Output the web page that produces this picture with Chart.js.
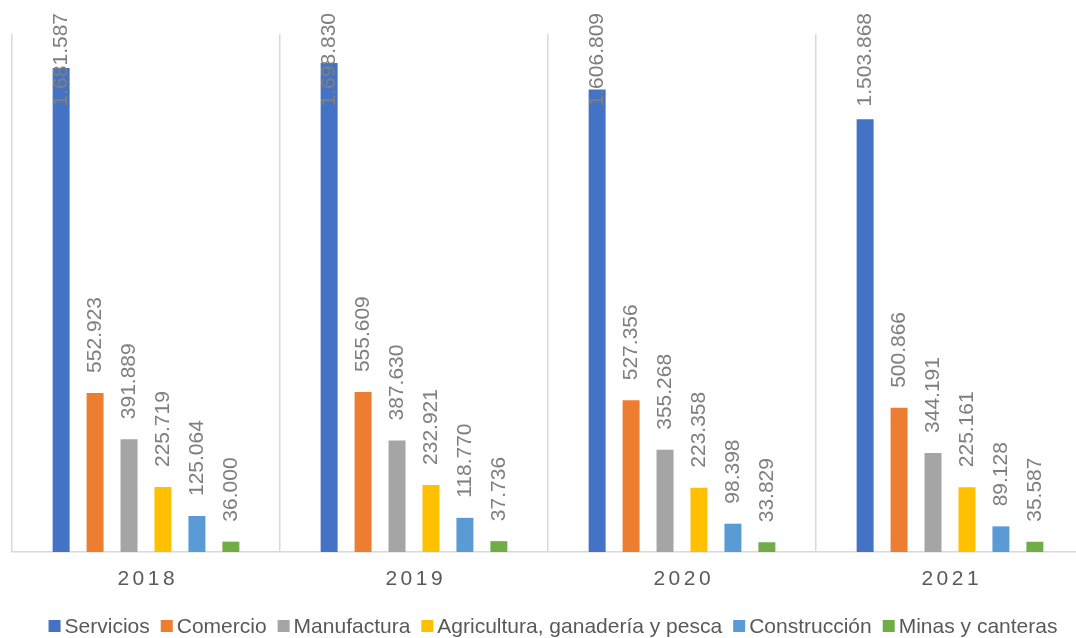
<!DOCTYPE html>
<html>
<head>
<meta charset="utf-8">
<script src="https://cdn.jsdelivr.net/npm/chart.js@4"></script>
<style>
  html, body { margin: 0; padding: 0; background: #fff; overflow: hidden; }
  #wrap { width: 1106px; height: 638px; }
</style>
</head>
<body>
<div id="wrap"><canvas id="chart"></canvas></div>
<script>
// 데이터
const years = ['2018', '2019', '2020', '2021'];
const servicios = [1681587, 1698830, 1606809, 1503868];
const comercio = [552923, 555609, 527356, 500866];
const manufactura = [391889, 387630, 355268, 344191];
const agricultura = [225719, 232921, 223358, 225161];
const construccion = [125064, 118770, 98398, 89128];
const minas = [36000, 37736, 33829, 35587];

const FONT = '"Liberation Sans", Arial, sans-serif';

// 1.681.587 형식
function fmt(v) {
    return String(v).replace(/\B(?=(\d{3})+(?!\d))/g, '.');
}

// 막대 위 세로 라벨
const valueLabels = {
    id: 'valueLabels',
    afterDatasetsDraw(chart) {
        const ctx = chart.ctx;
        ctx.save();
        ctx.font = '21px ' + FONT;
        ctx.fillStyle = '#7f7f7f';
        ctx.textAlign = 'left';
        ctx.textBaseline = 'middle';
        chart.data.datasets.forEach((ds, i) => {
            chart.getDatasetMeta(i).data.forEach((bar, j) => {
                const txt = fmt(ds.data[j]);
                const w = ctx.measureText(txt).width;
                let start = bar.y - 20;
                if (start - w < 13) start = 13 + w;
                ctx.save();
                ctx.translate(bar.x, start);
                ctx.rotate(-Math.PI / 2);
                ctx.fillText(txt, 0, 0);
                ctx.restore();
            });
        });
        ctx.restore();
    }
};

// 연도 라벨 (자간) + 범례
const axisAndLegend = {
    id: 'axisAndLegend',
    afterDraw(chart) {
        const ctx = chart.ctx;
        const x = chart.scales.x;
        const sp = 3.5;
        ctx.save();
        ctx.font = '21px ' + FONT;
        ctx.fillStyle = '#595959';
        ctx.letterSpacing = sp + 'px';
        ctx.textAlign = 'left';
        ctx.textBaseline = 'middle';
        years.forEach((y, i) => {
            const w = ctx.measureText(y).width - sp;
            ctx.fillText(y, x.getPixelForValue(i) - w / 2, x.top + 27);
        });
        ctx.letterSpacing = '0px';

        // 범례
        const box = 12, gapIn = 4, gapOut = 11, ly = 626;
        const items = chart.data.datasets.map(ds => ({
            text: ds.label, color: ds.backgroundColor, w: ctx.measureText(ds.label).width
        }));
        const total = items.reduce((s, it) => s + box + gapIn + it.w, 0) + gapOut * (items.length - 1);
        let cx = chart.width / 2 - total / 2;
        items.forEach(it => {
            ctx.fillStyle = it.color;
            ctx.fillRect(cx, ly - box / 2, box, box);
            ctx.fillStyle = '#595959';
            ctx.fillText(it.text, cx + box + gapIn, ly + 1);
            cx += box + gapIn + it.w + gapOut;
        });
        ctx.restore();
    }
};

const series = [
    { label: 'Servicios', data: servicios, color: '#4472C4' },
    { label: 'Comercio', data: comercio, color: '#ED7D31' },
    { label: 'Manufactura', data: manufactura, color: '#A5A5A5' },
    { label: 'Agricultura, ganadería y pesca', data: agricultura, color: '#FFC000' },
    { label: 'Construcción', data: construccion, color: '#5B9BD5' },
    { label: 'Minas y canteras', data: minas, color: '#70AD47' }
];

new Chart(document.getElementById('chart'), {
    type: 'bar',
    data: {
        labels: years,
        datasets: series.map(s => ({
            label: s.label,
            data: s.data,
            backgroundColor: s.color,
            borderWidth: 0,
            categoryPercentage: 0.76,
            barPercentage: 0.5
        }))
    },
    options: {
        responsive: true,
        maintainAspectRatio: false,
        animation: false,
        layout: { padding: { left: 12, right: 22, top: 34, bottom: 22 } },
        plugins: {
            legend: { display: false },
            tooltip: { enabled: false }
        },
        scales: {
            x: {
                grid: { color: '#d9d9d9', lineWidth: 1.5, drawTicks: false },
                border: { color: '#d9d9d9', width: 1.5 },
                ticks: {
                    color: 'rgba(0,0,0,0)',
                    font: { size: 20, family: FONT },
                    padding: 20
                }
            },
            y: {
                display: false,
                min: 0,
                max: 1800000
            }
        }
    },
    plugins: [valueLabels, axisAndLegend]
});
</script>
</body>
</html>
